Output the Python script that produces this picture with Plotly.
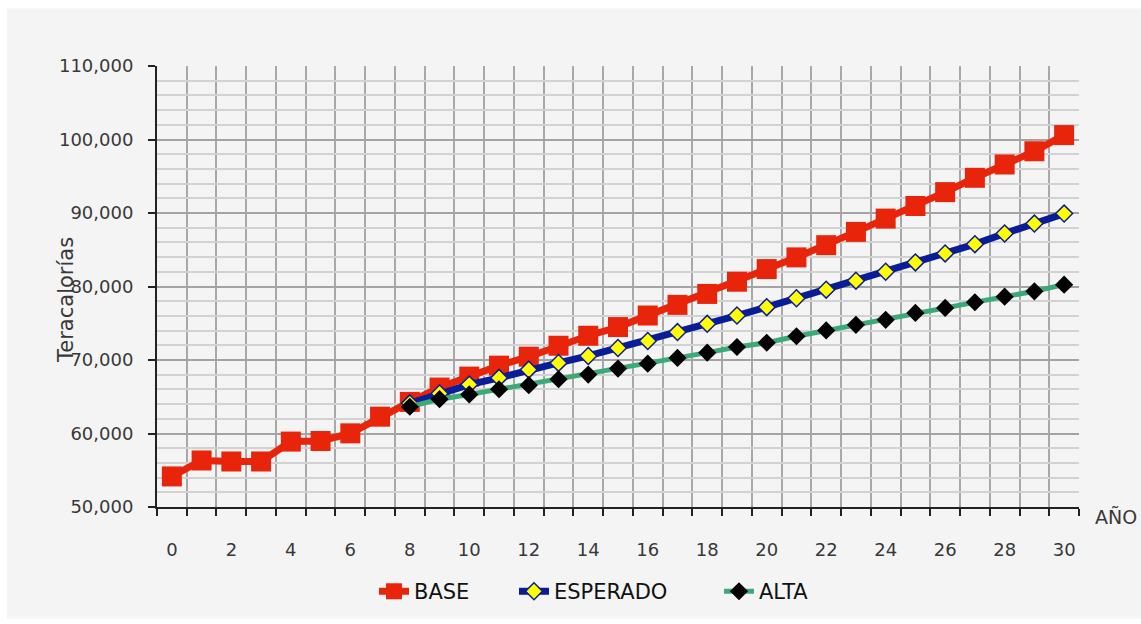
import plotly.graph_objects as go

# Years on the horizontal axis
years = list(range(0, 31))
proj_years = list(range(8, 31))
tick_years = list(range(0, 31, 2))

# Teracalorías per scenario
base = [54160, 56330, 56190, 56190, 58900, 58980, 60020, 62290, 64300, 66250,
        67740, 69230, 70450, 71940, 73300, 74480, 76050, 77500, 78990, 80650,
        82370, 83960, 85620, 87430, 89240, 90950, 92840, 94790, 96600, 98400,
        100600]
esperado = [64100, 65440, 66660, 67570, 68690, 69600, 70550, 71630, 72580, 73800,
            74920, 76050, 77190, 78400, 79570, 80790, 82010, 83280, 84500, 85760,
            87210, 88560, 89920]
alta = [63640, 64670, 65310, 66020, 66570, 67380, 68020, 68830, 69500, 70280,
        71000, 71770, 72350, 73230, 74020, 74790, 75460, 76400, 77090, 77860,
        78620, 79350, 80250]

FONT = "DejaVu Sans"
BG = "#f4f4f4"
TXT = "#383838"

L, R, T, B = 157, 1079, 66, 509
W, H = 1141, 624
pw, ph = R - L, B - T


def px_x(x):
    return (x - L) / pw


def px_y(y):
    return (B - y) / ph


fig = go.Figure()
fig.add_trace(go.Scatter(
    x=years, y=base, name="BASE", mode="lines+markers", legend="legend",
    line=dict(color="#e8240a", width=7),
    marker=dict(symbol="square", size=20, color="#e8240a"),
))
fig.add_trace(go.Scatter(
    x=proj_years, y=esperado, name="ESPERADO", mode="lines+markers", legend="legend2",
    line=dict(color="#0a1c96", width=7),
    marker=dict(symbol="diamond", size=13, color="#ffff00",
                line=dict(color="#0a1c96", width=1.5)),
))
fig.add_trace(go.Scatter(
    x=proj_years, y=alta, name="ALTA", mode="lines+markers", legend="legend3",
    line=dict(color="#3caa78", width=5),
    marker=dict(symbol="diamond", size=14, color="#000000"),
))

legend_style = dict(
    orientation="h", xanchor="left", y=px_y(594), yanchor="middle",
    font=dict(family=FONT, size=21, color="#111111"),
    bgcolor="rgba(0,0,0,0)",
)

fig.update_layout(
    width=W, height=H,
    margin=dict(l=L, r=W - R, t=T, b=H - B, pad=0),
    paper_bgcolor="#ffffff",
    plot_bgcolor=BG,
    font=dict(family=FONT, size=18, color=TXT),
    showlegend=True,
    legend=dict(x=px_x(374), **legend_style),
    legend2=dict(x=px_x(514), **legend_style),
    legend3=dict(x=px_x(719), **legend_style),
    shapes=[dict(
        type="rect", xref="paper", yref="paper", layer="below",
        x0=px_x(7), x1=px_x(W + 5),
        y0=px_y(621), y1=px_y(8),
        fillcolor=BG, line=dict(width=0),
    )],
    annotations=[
        dict(text="Teracalorías", xref="paper", yref="paper",
             x=px_x(66), y=px_y(301), xanchor="center", yanchor="middle",
             textangle=-90, showarrow=False,
             font=dict(family=FONT, size=21, color=TXT)),
        dict(text="AÑO", xref="paper", yref="paper",
             x=px_x(1093), y=px_y(519), xanchor="left", yanchor="middle",
             showarrow=False,
             font=dict(family=FONT, size=19, color=TXT)),
    ],
)

fig.update_xaxes(
    range=[-0.5, 30.5], tickmode="array", tickvals=tick_years,
    ticktext=[str(v) for v in tick_years],
    showgrid=False, ticks="", zeroline=False,
    showline=True, linecolor="#222222", linewidth=2,
    ticklabelstandoff=25,
    tickfont=dict(family=FONT, size=18, color=TXT),
    minor=dict(tickmode="array", tickvals=[v - 0.5 for v in years] + [30.5],
               showgrid=True, gridcolor="#a8a8a8", gridwidth=2,
               ticks="outside", ticklen=7, tickcolor="#222222", tickwidth=2),
)
fig.update_yaxes(
    range=[50000, 110000], tickmode="linear", tick0=50000, dtick=10000,
    tickformat=",d", showgrid=True, gridcolor="#a3a3a3", gridwidth=2,
    ticks="outside", ticklen=7, tickcolor="#222222", tickwidth=2,
    zeroline=False, showline=True, linecolor="#222222", linewidth=2,
    ticklabelstandoff=11,
    tickfont=dict(family=FONT, size=18, color=TXT),
    minor=dict(dtick=2000, showgrid=True, gridcolor="#d2d2d2", gridwidth=2,
               ticks=""),
)

fig.write_html("out.html")
